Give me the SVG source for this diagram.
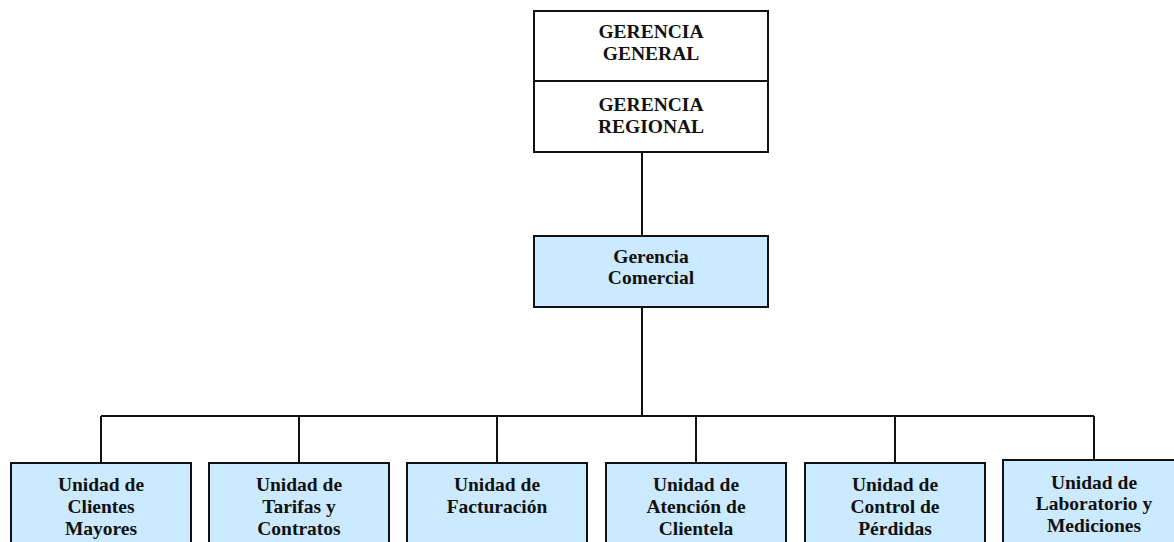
<svg xmlns="http://www.w3.org/2000/svg" width="1174" height="542" viewBox="0 0 1174 542">
<style>
.box{fill:#ffffff;stroke:#111;stroke-width:2}
.blue{fill:#cceaff;stroke:#111;stroke-width:2}
.t{font-family:"Liberation Serif","Times New Roman",serif;font-weight:bold;font-size:19.5px;fill:#111;text-anchor:middle}
.c{fill:none;stroke:#111;stroke-width:2}
</style>
<rect width="1174" height="542" fill="#ffffff"/>
<g id="connectors">
<line class="c" x1="642" y1="152" x2="642" y2="236"/>
<line class="c" x1="642" y1="307" x2="642" y2="416"/>
<line class="c" x1="101" y1="416" x2="1094" y2="416"/>
<line class="c" x1="101" y1="416" x2="101" y2="463"/>
<line class="c" x1="299" y1="416" x2="299" y2="463"/>
<line class="c" x1="497" y1="416" x2="497" y2="463"/>
<line class="c" x1="696" y1="416" x2="696" y2="463"/>
<line class="c" x1="895" y1="416" x2="895" y2="463"/>
<line class="c" x1="1094" y1="416" x2="1094" y2="460"/>
</g>
<g id="gerencia-general">
<rect class="box" x="534" y="11" width="234" height="70"/>
<text class="t" x="651" y="38">GERENCIA</text>
<text class="t" x="651" y="60">GENERAL</text>
</g>
<g id="gerencia-regional">
<rect class="box" x="534" y="81" width="234" height="71"/>
<text class="t" x="651" y="111">GERENCIA</text>
<text class="t" x="651" y="133">REGIONAL</text>
</g>
<g id="gerencia-comercial">
<rect class="blue" x="534" y="236" width="234" height="71"/>
<text class="t" x="651" y="263">Gerencia</text>
<text class="t" x="651" y="284">Comercial</text>
</g>
<g id="clientes-mayores">
<rect class="blue" x="11" y="463" width="180" height="90"/>
<text class="t" x="101" y="491">Unidad de</text>
<text class="t" x="101" y="513">Clientes</text>
<text class="t" x="101" y="535">Mayores</text>
</g>
<g id="tarifas-contratos">
<rect class="blue" x="209" y="463" width="180" height="90"/>
<text class="t" x="299" y="491">Unidad de</text>
<text class="t" x="299" y="513">Tarifas y</text>
<text class="t" x="299" y="535">Contratos</text>
</g>
<g id="facturacion">
<rect class="blue" x="407" y="463" width="180" height="90"/>
<text class="t" x="497" y="491">Unidad de</text>
<text class="t" x="497" y="513">Facturación</text>
</g>
<g id="atencion-clientela">
<rect class="blue" x="606" y="463" width="180" height="90"/>
<text class="t" x="696" y="491">Unidad de</text>
<text class="t" x="696" y="513">Atención de</text>
<text class="t" x="696" y="535">Clientela</text>
</g>
<g id="control-perdidas">
<rect class="blue" x="805" y="463" width="180" height="90"/>
<text class="t" x="895" y="491">Unidad de</text>
<text class="t" x="895" y="513">Control de</text>
<text class="t" x="895" y="535">Pérdidas</text>
</g>
<g id="laboratorio-mediciones">
<rect class="blue" x="1003" y="460" width="180" height="90"/>
<text class="t" x="1094" y="489">Unidad de</text>
<text class="t" x="1094" y="510">Laboratorio y</text>
<text class="t" x="1094" y="532">Mediciones</text>
</g>
</svg>
